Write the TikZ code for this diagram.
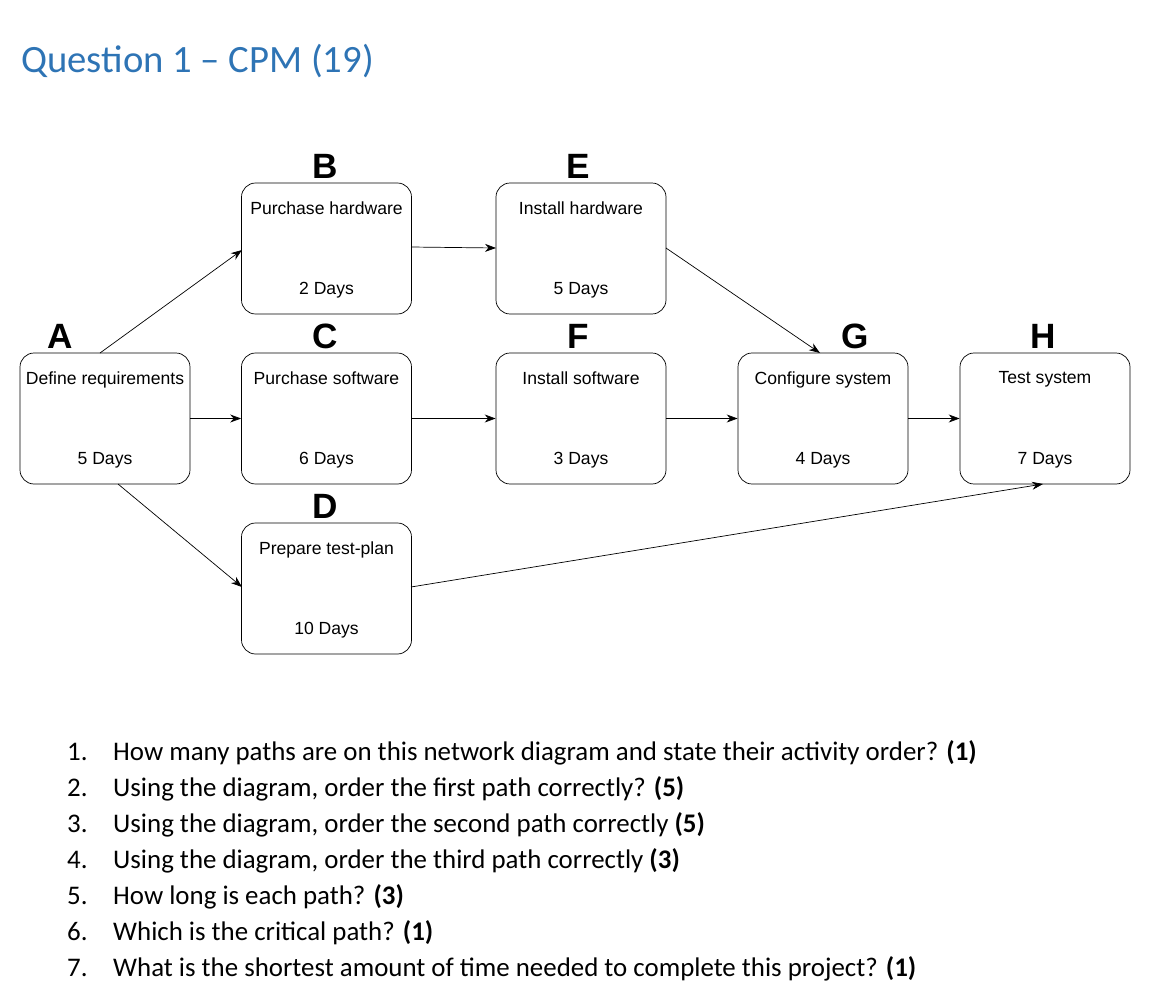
\documentclass[tikz,border=0pt]{standalone}
\usepackage{fontspec}
\setmainfont{Liberation Sans}
\newfontfamily\qfont{Carlito}[Ligatures=TeX]
\usetikzlibrary{positioning}
\usetikzlibrary{arrows.meta}
\definecolor{titleblue}{HTML}{2E74B5}
\begin{document}
\begin{tikzpicture}[-{Stealth[length=2.2mm,width=1.6mm]},thin,
    task node/.style={draw,rounded corners=8pt,minimum width=3.4cm,minimum height=2.62cm,fill=white},
    letter node/.style={font=\fontsize{20}{22}\selectfont\bfseries},
    small text/.style={font=\fontsize{10}{12}\selectfont},
    question/.style={font=\qfont\fontsize{15.3}{17}\selectfont,anchor=base west}]
\useasboundingbox (0,0) rectangle (23.4,-19.8);

\node[anchor=base west,font=\qfont\fontsize{22}{26}\selectfont,text=titleblue] (title) at (0.3,-1.45) {Question 1 – CPM (19)};

% tasks
\node[task node] at (2.1,-8.37) (A) {};
\node[task node] at (6.53,-4.97) (B) {};
\node[task node] at (6.53,-8.37) (C) {};
\node[task node] at (6.53,-11.77) (D) {};
\node[task node] at (11.62,-4.97) (E) {};
\node[task node] at (11.62,-8.37) (F) {};
\node[task node] at (16.46,-8.37) (G) {};
\node[task node] at (20.9,-8.37) (H) {};

\node[small text,below=0.26cm of A.north] (A top) {Define requirements};
\node[small text,above=0.2cm of A.south] (A days) {5 Days};
\node[small text,below=0.26cm of B.north] (B top) {Purchase hardware};
\node[small text,above=0.2cm of B.south] (B days) {2 Days};
\node[small text,below=0.26cm of C.north] (C top) {Purchase software};
\node[small text,above=0.2cm of C.south] (C days) {6 Days};
\node[small text,below=0.26cm of D.north] (D top) {Prepare test-plan};
\node[small text,above=0.2cm of D.south] (D days) {10 Days};
\node[small text,below=0.26cm of E.north] (E top) {Install hardware};
\node[small text,above=0.2cm of E.south] (E days) {5 Days};
\node[small text,below=0.26cm of F.north] (F top) {Install software};
\node[small text,above=0.2cm of F.south] (F days) {3 Days};
\node[small text,below=0.26cm of G.north] (G top) {Configure system};
\node[small text,above=0.2cm of G.south] (G days) {4 Days};
\node[small text,below=0.26cm of H.north] (H top) {Test system};
\node[small text,above=0.2cm of H.south] (H days) {7 Days};

% letters
\node[letter node] at (1.2,-6.72) (A label) {A};
\node[letter node] at (6.5,-3.32) (B label) {B};
\node[letter node] at (6.5,-6.72) (C label) {C};
\node[letter node] at (6.5,-10.12) (D label) {D};
\node[letter node] at (11.56,-3.32) (E label) {E};
\node[letter node] at (11.56,-6.72) (F label) {F};
\node[letter node] at (17.1,-6.72) (G label) {G};
\node[letter node] at (20.86,-6.72) (H label) {H};

\coordinate (A out) at (2.0,-7.06);
\coordinate (A down) at (2.36,-9.68);
\coordinate (B in) at (4.84,-5.0);
\coordinate (D in) at (4.84,-11.74);
\coordinate (G in) at (16.4,-7.06);
\coordinate (H in) at (20.86,-9.68);
\coordinate (D out) at (8.22,-11.74);
\coordinate (B out) at (8.22,-4.94);
\coordinate (E in) at (9.92,-4.96);
\coordinate (E out) at (13.32,-4.96);

\path
(A out) edge (B in)
(A) edge (C)
(A down) edge (D in)
(B out) edge (E in)
(C) edge (F)
(E out) edge (G in)
(F) edge (G)
(G) edge (H)
(D out) edge (H in)
;

% questions
\foreach \n/\t [count=\i] in {1/{How many paths are on this network diagram and state their activity order? \textbf{(1)}},
  2/{Using the diagram, order the first path correctly? \textbf{(5)}},
  3/{Using the diagram, order the second path correctly \textbf{(5)}},
  4/{Using the diagram, order the third path correctly \textbf{(3)}},
  5/{How long is each path? \textbf{(3)}},
  6/{Which is the critical path? \textbf{(1)}},
  7/{What is the shortest amount of time needed to complete this project? \textbf{(1)}}}
{
  \node[question] (num\i) at (1.22,-15.2-0.72*\i+0.72) {\n.};
  \node[question] (q\i) at (2.14,-15.2-0.72*\i+0.72) {\t};
}
\end{tikzpicture}
\end{document}
